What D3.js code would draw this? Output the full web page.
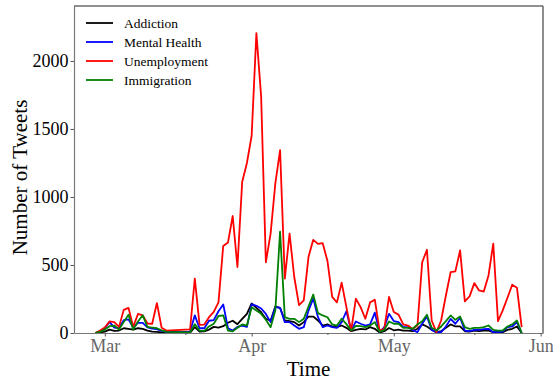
<!DOCTYPE html>
<html>
<head>
<meta charset="utf-8">
<script src="https://cdn.jsdelivr.net/npm/d3@7"></script>
<style>
  html, body { margin: 0; padding: 0; background: #fff; }
  svg { display: block; }
</style>
</head>
<body>
<svg id="chart" width="553" height="381"></svg>
<script>
// ---- data ----
const dates = [
  "2020-02-28","2020-02-29",
  "2020-03-01","2020-03-02","2020-03-03","2020-03-04","2020-03-05","2020-03-06","2020-03-07",
  "2020-03-08","2020-03-09","2020-03-10","2020-03-11","2020-03-12","2020-03-13","2020-03-14",
  "2020-03-19","2020-03-20","2020-03-21","2020-03-22","2020-03-23","2020-03-24","2020-03-25",
  "2020-03-26","2020-03-27","2020-03-28","2020-03-29","2020-03-30","2020-03-31",
  "2020-04-01","2020-04-02","2020-04-03","2020-04-04","2020-04-05","2020-04-06","2020-04-07",
  "2020-04-08","2020-04-09","2020-04-10","2020-04-11","2020-04-12","2020-04-13","2020-04-14",
  "2020-04-15","2020-04-16","2020-04-17","2020-04-18","2020-04-19","2020-04-20","2020-04-21",
  "2020-04-22","2020-04-23","2020-04-24","2020-04-25","2020-04-26","2020-04-27","2020-04-28",
  "2020-04-29","2020-04-30",
  "2020-05-01","2020-05-02","2020-05-03","2020-05-04","2020-05-05","2020-05-06","2020-05-07",
  "2020-05-08","2020-05-09","2020-05-10","2020-05-11","2020-05-12","2020-05-13","2020-05-14",
  "2020-05-15","2020-05-16","2020-05-17","2020-05-18","2020-05-19","2020-05-20","2020-05-21",
  "2020-05-22","2020-05-23","2020-05-24","2020-05-25","2020-05-26","2020-05-27","2020-05-28"
];

const addiction = [
  0,5,
  10,25,15,18,35,30,25,35,30,18,10,8,5,3,
  3,43,10,12,25,45,40,50,75,90,65,104,141,
  217,185,153,104,92,195,185,92,87,80,55,80,121,121,92,55,63,48,43,55,38,13,23,31,26,43,31,3,13,37,
  20,25,18,18,13,31,63,48,23,6,13,38,63,48,48,13,11,18,13,18,18,6,6,6,23,31,48,0
];

const mentalHealth = [
  0,12,
  35,82,40,35,95,100,40,75,75,42,32,28,15,8,
  10,130,35,35,90,95,160,210,35,18,45,55,45,
  212,200,180,140,80,190,185,80,80,55,31,43,165,255,116,43,55,43,38,80,160,18,85,68,55,63,150,6,43,141,
  88,80,43,43,23,6,68,121,23,6,6,48,104,68,112,18,13,23,23,28,31,6,6,11,43,48,80,0
];

const unemployment = [
  0,18,
  40,85,80,45,170,185,45,140,130,70,68,220,38,18,
  26,400,60,62,116,155,225,640,665,860,485,1110,1250,
  1450,2205,1740,520,730,1100,1345,400,730,410,205,240,560,685,655,660,530,265,225,370,190,15,252,190,105,225,245,18,30,265,
  155,135,63,55,30,55,520,612,92,6,92,276,447,453,607,232,269,367,313,305,423,657,87,166,259,355,333,43
];

const immigration = [
  0,8,
  25,50,55,25,80,135,25,85,130,45,40,35,20,8,
  5,65,18,15,48,68,125,130,18,12,38,63,55,
  190,165,141,97,43,165,745,116,104,104,80,104,195,283,146,129,116,63,55,105,65,18,52,50,43,55,80,8,23,85,
  68,68,38,38,31,63,87,134,38,18,48,87,129,97,121,43,31,38,38,43,55,23,18,18,48,63,92,0
];

const seriesNames = ["Addiction", "Mental Health", "Unemployment", "Immigration"];
const seriesColors = ["#000000", "#0000ff", "#ff0000", "#008000"];
const yTicks = [0, 500, 1000, 1500, 2000];
const xMajorTicks = ["2020-03-01", "2020-04-01", "2020-05-01", "2020-06-01"];
const xMajorLabels = ["Mar", "Apr", "May", "Jun"];
const xMinorTicks = ["2020-03-18", "2020-04-17", "2020-05-18"];

// ---- layout ----
const svg = d3.select("#chart");
const M = { left: 74, right: 543, top: 6, bottom: 333 };
const parse = d3.utcParse("%Y-%m-%d");
const dts = dates.map(parse);
const dMin = d3.min(dts), dMax = d3.max(dts);
const pad = (dMax - dMin) * 0.05;

const x = d3.scaleUtc()
  .domain([new Date(+dMin - pad), new Date(+dMax + pad)])
  .range([M.left, M.right]);
const y = d3.scaleLinear().domain([0, 2404]).range([M.bottom, M.top]);

const font = "'Liberation Serif', 'Times New Roman', serif";

// lines
const allSeries = [addiction, mentalHealth, unemployment, immigration];
const line = d3.line()
  .x((d, i) => x(dts[i]))
  .y(d => y(d));

const plot = svg.append("g");
allSeries.forEach((vals, k) => {
  plot.append("path")
    .datum(vals)
    .attr("fill", "none")
    .attr("stroke", seriesColors[k])
    .attr("stroke-width", 1.8)
    .attr("stroke-linejoin", "round")
    .attr("d", line);
});

// y axis
const yAxis = d3.axisLeft(y).tickValues(yTicks).tickFormat(d3.format("d"))
  .tickSize(3.5).tickPadding(2).tickSizeOuter(0);
const gy = svg.append("g").attr("transform", `translate(${M.left},0)`).call(yAxis);
gy.select(".domain").attr("stroke", "#777").attr("stroke-width", 1.2);
gy.selectAll(".tick line").attr("stroke", "#555");
gy.selectAll(".tick text")
  .attr("font-family", font).attr("font-size", 18).attr("fill", "#000");

// x axis
const xMajor = xMajorTicks.map(parse);
const xAxis = d3.axisBottom(x).tickValues(xMajor)
  .tickFormat((d, i) => xMajorLabels[i]).tickSize(3.5).tickPadding(3).tickSizeOuter(0);
const gx = svg.append("g").attr("transform", `translate(0,${M.bottom})`).call(xAxis);
gx.select(".domain").attr("stroke", "#777").attr("stroke-width", 1.2);
gx.selectAll(".tick line").attr("stroke", "#555");
gx.selectAll(".tick text")
  .attr("font-family", font).attr("font-size", 18).attr("fill", "#666");

const xMinorAxis = d3.axisBottom(x).tickValues(xMinorTicks.map(parse))
  .tickFormat("").tickSize(2).tickSizeOuter(0);
const gxm = svg.append("g").attr("transform", `translate(0,${M.bottom})`).call(xMinorAxis);
gxm.select(".domain").remove();
gxm.selectAll(".tick line").attr("stroke", "#555");

// top and right spines
svg.append("line").attr("x1", M.left).attr("x2", M.right).attr("y1", M.top).attr("y2", M.top)
  .attr("stroke", "#222").attr("stroke-width", 1.2);
svg.append("line").attr("x1", M.right).attr("x2", M.right).attr("y1", M.top).attr("y2", M.bottom)
  .attr("stroke", "#444").attr("stroke-width", 1.2);

// axis titles
svg.append("text")
  .attr("x", (M.left + M.right) / 2).attr("y", 376)
  .attr("text-anchor", "middle")
  .attr("font-family", font).attr("font-size", 21).attr("fill", "#000")
  .text("Time");

svg.append("text")
  .attr("transform", `translate(27,${(M.top + M.bottom) / 2 + 8}) rotate(-90)`)
  .attr("text-anchor", "middle")
  .attr("font-family", font).attr("font-size", 21).attr("fill", "#000")
  .text("Number of Tweets");

// legend
const legend = svg.append("g");
seriesNames.forEach((name, k) => {
  const yy = 23 + k * 19;
  legend.append("line")
    .attr("x1", 86).attr("x2", 113).attr("y1", yy).attr("y2", yy)
    .attr("stroke", seriesColors[k]).attr("stroke-width", 1.8);
  legend.append("text")
    .attr("x", 124).attr("y", yy + 4.5)
    .attr("font-family", font).attr("font-size", 13.5).attr("fill", "#000")
    .text(name);
});
</script>
</body>
</html>
